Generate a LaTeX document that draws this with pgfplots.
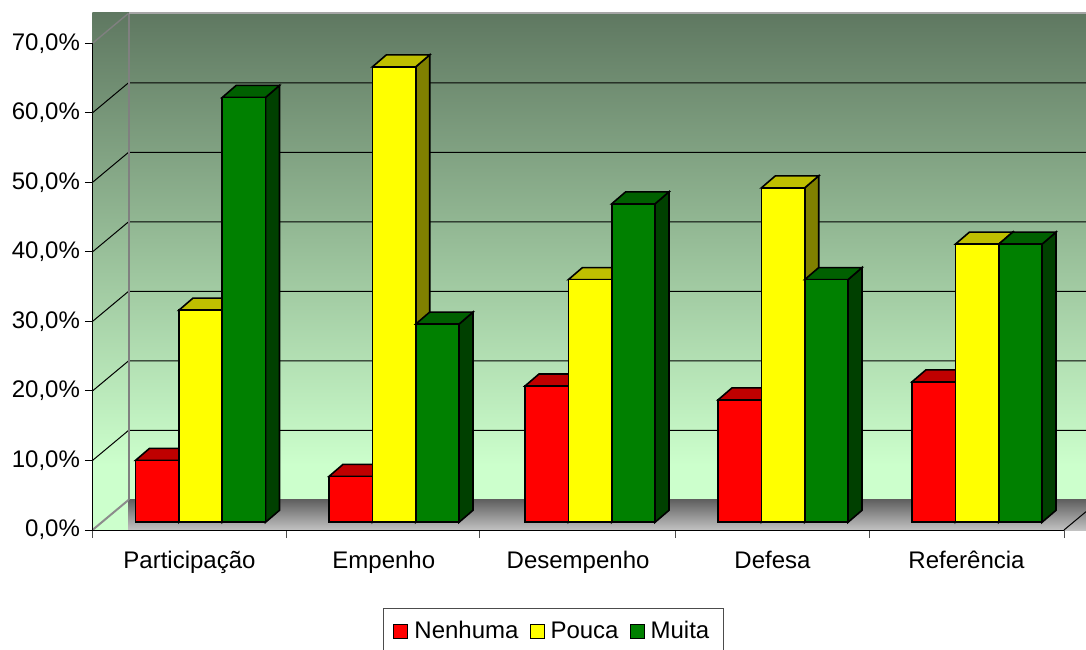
\documentclass[border=0pt]{standalone}
\usepackage{fontspec}
\setmainfont{Liberation Sans}
\usepackage{pgfplots}
\pgfplotsset{compat=1.18}

% Excel-style 3D column: front face, then top and side faces offset by the depth
\newcommand{\solidcolumn}[5]{%
  \pgfmathsetmacro{\xl}{#1}%
  \pgfmathsetmacro{\xr}{#1+43.3}%
  \pgfmathsetmacro{\xd}{#1+43.3+14}%
  \pgfmathsetmacro{\xb}{#1+14}%
  \pgfmathsetmacro{\yb}{1.11}%
  \pgfmathsetmacro{\yt}{1.11+#2}%
  \pgfmathsetmacro{\ybd}{1.11+1.73}%
  \pgfmathsetmacro{\ytd}{1.11+#2+1.73}%
  \addplot[forget plot, draw=black, line width=0.8pt, fill=#5]
    coordinates {(\xr,\yb) (\xd,\ybd) (\xd,\ytd) (\xr,\yt)} --cycle;
  \addplot[forget plot, draw=black, line width=0.8pt, fill=#4]
    coordinates {(\xl,\yt) (\xb,\ytd) (\xd,\ytd) (\xr,\yt)} --cycle;
  \addplot[forget plot, draw=black, line width=0.8pt, fill=#3]
    coordinates {(\xl,\yb) (\xr,\yb) (\xr,\yt) (\xl,\yt)} --cycle;
}
\newcommand{\nenhuma}[2]{\solidcolumn{#1}{#2}{redfront}{redtop}{redside}}
\newcommand{\pouca}[2]{\solidcolumn{#1}{#2}{yellowfront}{yellowtop}{yellowside}}
\newcommand{\muita}[2]{\solidcolumn{#1}{#2}{greenfront}{greentop}{greenside}}

\definecolor{redfront}{RGB}{255,0,0}
\definecolor{redtop}{RGB}{191,0,0}
\definecolor{redside}{RGB}{128,0,0}
\definecolor{yellowfront}{RGB}{255,255,0}
\definecolor{yellowtop}{RGB}{191,191,0}
\definecolor{yellowside}{RGB}{128,128,0}
\definecolor{greenfront}{RGB}{0,128,0}
\definecolor{greentop}{RGB}{0,96,0}
\definecolor{greenside}{RGB}{0,64,0}
\definecolor{walltop}{RGB}{95,120,97}
\definecolor{wallbottom}{RGB}{204,255,204}

\begin{document}
\begin{tikzpicture}
\path[use as bounding box, clip] (0,0) rectangle (543pt,324.5pt);
\begin{axis}[
  at={(46.25pt,59.5pt)}, anchor=south west,
  scale only axis, width=485.75pt, height=243.35pt,
  xmin=0, xmax=971.5, ymin=0, ymax=70,
  clip=false, axis on top,
  axis x line*=bottom, axis y line*=left,
  axis line style={-, line width=0.5pt},
  tick align=outside,
  font=\fontsize{12}{14}\selectfont,
  ytick={0,10,20,30,40,50,60,70},
  yticklabels={{0,0\%},{10,0\%},{20,0\%},{30,0\%},{40,0\%},{50,0\%},{60,0\%},{70,0\%}},
  major tick length=3.75pt,
  ytick style={line width=0.5pt, black},
  yticklabel style={xshift=1pt},
  xtick={97,291.3,485.6,680,874},
  xticklabels={Participação,Empenho,Desempenho,Defesa,Referência},
  major x tick style={draw=none},
  minor xtick={0,193.7,387.4,583,776.5,971.5},
  minor tick length=4pt,
  minor x tick style={line width=0.5pt, black!70},
  xticklabel style={yshift=-3pt, text height=9pt, text depth=3pt},
  legend columns=3,
  legend style={
    at={(0.299,-0.160)}, anchor=north west,
    draw=black!70, line width=0.5pt,
    inner xsep=5pt, inner ysep=4.5pt,
    font=\fontsize{12}{14}\selectfont,
    /tikz/every even column/.append style={column sep=3.5pt},
  },
  legend cell align=left,
  legend image code/.code={
    \draw[#1, line width=0.5pt] (0pt,-3.5pt) rectangle (7pt,3.5pt);
    \path (8pt,0pt);
  },
]
  % back and side walls: gradient that settles into the pale green near the floor
  \path[top color=walltop, bottom color=wallbottom]
    (axis cs:0,74.39) rectangle (axis cs:993.5,9.35);
  \path[fill=wallbottom] (axis cs:0,9.4) rectangle (axis cs:993.5,4.32);
  \path[fill=wallbottom] (axis cs:0,4.32) rectangle (axis cs:36.5,0);
  % floor
  \path[top color=black!62, bottom color=black!24]
    (axis cs:36,4.32) rectangle (axis cs:993.5,0);

  % gridlines along the side wall and the back wall
  \pgfplotsinvokeforeach{10,20,30,40,50,60}{
    \draw[black, line width=0.5pt] (axis cs:0,#1) -- (axis cs:36,#1+4.32) -- (axis cs:993.5,#1+4.32);
  }
  \draw[black!50, line width=1pt] (axis cs:36,4.32) -- (axis cs:36,74.32);
  \draw[black!35, line width=1pt] (axis cs:36,74.32) -- (axis cs:993.5,74.32);
  \draw[black!50, line width=0.7pt] (axis cs:0,70) -- (axis cs:36,74.32);
  \draw[black!45, line width=1pt] (axis cs:0,0) -- (axis cs:36,4.32);
  \draw[black, line width=0.5pt] (axis cs:971.5,0) -- (axis cs:993.5,2.64);

  % Participação
  \nenhuma{43}{8.9}\pouca{86.4}{30.5}\muita{129.7}{61.1}
  % Empenho
  \nenhuma{236.5}{6.6}\pouca{279.9}{65.5}\muita{323.2}{28.5}
  % Desempenho
  \nenhuma{432.5}{19.6}\pouca{475.9}{34.9}\muita{519.2}{45.8}
  % Defesa
  \nenhuma{625.5}{17.6}\pouca{668.9}{48.1}\muita{712.2}{34.9}
  % Referência
  \nenhuma{819.5}{20.2}\pouca{862.9}{40}\muita{906.2}{40}

  \addlegendimage{fill=redfront, draw=black}
  \addlegendentry{Nenhuma}
  \addlegendimage{fill=yellowfront, draw=black}
  \addlegendentry{Pouca}
  \addlegendimage{fill=greenfront, draw=black}
  \addlegendentry{Muita}
\end{axis}
\end{tikzpicture}
\end{document}
